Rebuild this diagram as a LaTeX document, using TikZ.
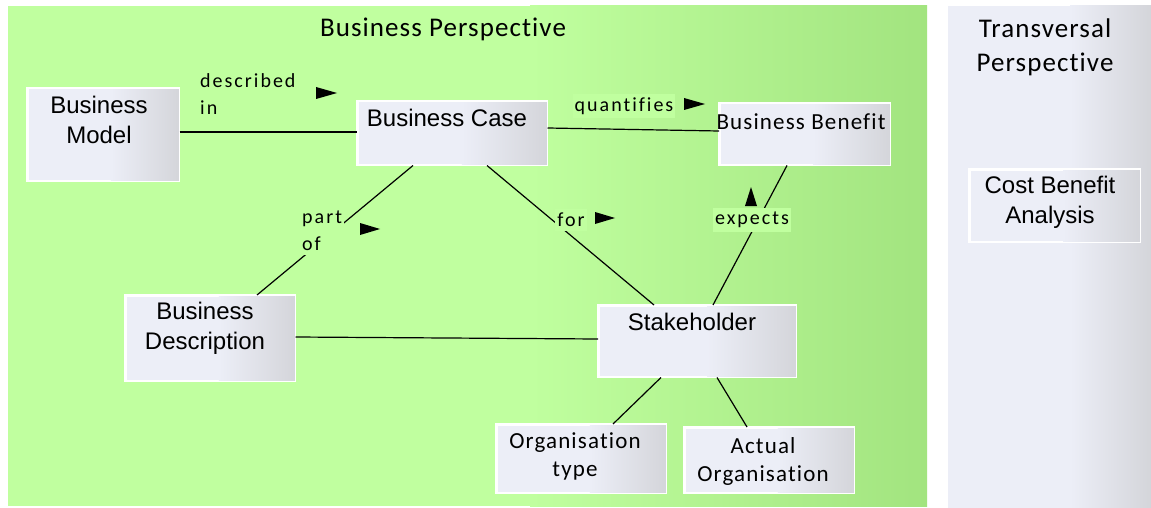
\documentclass[tikz,border=0pt]{standalone}
\usepackage{fontspec}
\setmainfont{Liberation Sans}
\newfontfamily\lblfont[LetterSpace=10, Ligatures=CommonOff]{Carlito}
\newfontfamily\ttlfont[LetterSpace=4, Ligatures=CommonOff]{Carlito}
\newfontfamily\bxfont[LetterSpace=5, Ligatures=CommonOff]{Carlito}
\usetikzlibrary{calc}
\definecolor{gL}{HTML}{C0FF9F}
\definecolor{gR}{HTML}{A2E47F}
\definecolor{bxL}{HTML}{ECEEF7}
\definecolor{bxR}{HTML}{D4D5DA}
\newcommand\boxgrad[1]{%
  \shade[left color=bxL,right color=bxR]
    ($(#1.south west)!0.55!(#1.south east)$) rectangle (#1.north east);
  \draw[white, line width=1.5pt] (#1.south west) rectangle (#1.north east);}
\tikzset{
  box/.style={draw=white, line width=1.5pt, fill=bxL, inner sep=0pt, anchor=north west},
  btxt/.style={font=\fontsize{24}{30}\selectfont, align=center, inner sep=0pt},
  ctxt/.style={font=\bxfont\fontsize{23}{28}\selectfont, align=center, inner sep=0pt},
  ttl/.style={font=\ttlfont\fontsize{27}{34}\selectfont, align=center, inner sep=0pt},
  lbl/.style={font=\lblfont\fontsize{20}{27}\selectfont, align=left, fill=gL, inner xsep=2pt, inner ysep=4pt},
  conn/.style={line width=1.2pt, black},
  tri/.style={fill=black}
}
\begin{document}
\begin{tikzpicture}[x=1pt,y=1pt]
\useasboundingbox (0,0) rectangle (1151,-508);
\fill[white] (0,0) rectangle (1151,-508);
% panels
\fill[gL] (8,-6) rectangle (927,-506);
\shade[left color=gL, right color=gR] (530,-6) rectangle (927,-506);
\fill[bxL] (948,-6) rectangle (1151,-508);
\shade[left color=bxL, right color=bxR] (1070,-6) rectangle (1151,-508);
\node[ttl] (bp) at (443,-29) {Business Perspective};
\node[ttl] (tp) at (1045,-47) {Transversal\\Perspective};
% boxes
\node[box, minimum width=151pt, minimum height=92pt] (bm) at (27,-88) {};
\node[box, minimum width=189pt, minimum height=63pt] (bc) at (357,-101) {};
\node[box, minimum width=170pt, minimum height=61pt] (bb) at (719,-103) {};
\node[box, minimum width=169pt, minimum height=85pt] (bd) at (125,-295) {};
\node[box, minimum width=197pt, minimum height=71pt] (sh) at (598,-305) {};
\node[box, minimum width=169pt, minimum height=68pt] (ot) at (496,-424) {};
\node[box, minimum width=169pt, minimum height=65pt] (ao) at (684,-427) {};
\node[box, minimum width=170pt, minimum height=72pt] (cb) at (969,-169) {};
\boxgrad{bm}\boxgrad{bc}\boxgrad{bb}\boxgrad{bd}\boxgrad{sh}\boxgrad{ot}\boxgrad{ao}\boxgrad{cb}
% box texts
\node[btxt] (bmt) at (99,-120) {Business\\Model};
\node[btxt] (bct) at (447,-118) {Business Case};
\node[ctxt] (bbt) at (801,-122) {Business Benefit};
\node[btxt] (bdt) at (205,-328) {Business\\Description};
\node[btxt] (sht) at (692,-322) {Stakeholder};
\node[ctxt] (ott) at (575,-456) {Organisation\\type};
\node[ctxt] (aot) at (763,-461) {Actual\\Organisation};
\node[btxt] (cbt) at (1050,-202) {Cost Benefit\\Analysis};
% connectors
\draw[conn] (bm.east |- 0,-132) -- (bc.west |- 0,-132);
\draw[conn] ($(bc.north east)+(0,-27)$) -- ($(bb.north west)+(0,-28)$);
\draw[conn] ($(bc.south west)+(56,0)$) -- ($(bd.north west)+(132,0)$);
\draw[conn] ($(bc.south west)+(130,0)$) -- ($(sh.north west)+(56,0)$);
\draw[conn] ($(bb.south west)+(68,0)$) -- ($(sh.north west)+(115,0)$);
\draw[conn] ($(bd.north east)+(0,-42)$) -- ($(sh.north west)+(0,-34)$);
\draw[conn] ($(sh.south west)+(63,0)$) -- ($(ot.north west)+(117,0)$);
\draw[conn] ($(sh.south west)+(119,0)$) -- ($(ao.north west)+(63,0)$);
% connector labels
\node[lbl, anchor=west] (l1) at (198,-94) {described\\in};
\node[lbl] (l2) at (624,-106) {quantifies};
\node[lbl, anchor=west] (l3) at (300,-231) {part\\of};
\node[lbl] (l4) at (571,-220) {for};
\node[lbl] (l5) at (752,-220) {expects};
% direction markers
\fill[tri] (316,-87) -- (337,-93) -- (316,-99) -- cycle;
\fill[tri] (684,-98) -- (705,-104) -- (684,-110) -- cycle;
\fill[tri] (360,-223) -- (380,-229) -- (360,-235) -- cycle;
\fill[tri] (595,-212) -- (615,-218) -- (595,-224) -- cycle;
\fill[tri] (745,-206) -- (751,-187) -- (757,-206) -- cycle;
\end{tikzpicture}
\end{document}
